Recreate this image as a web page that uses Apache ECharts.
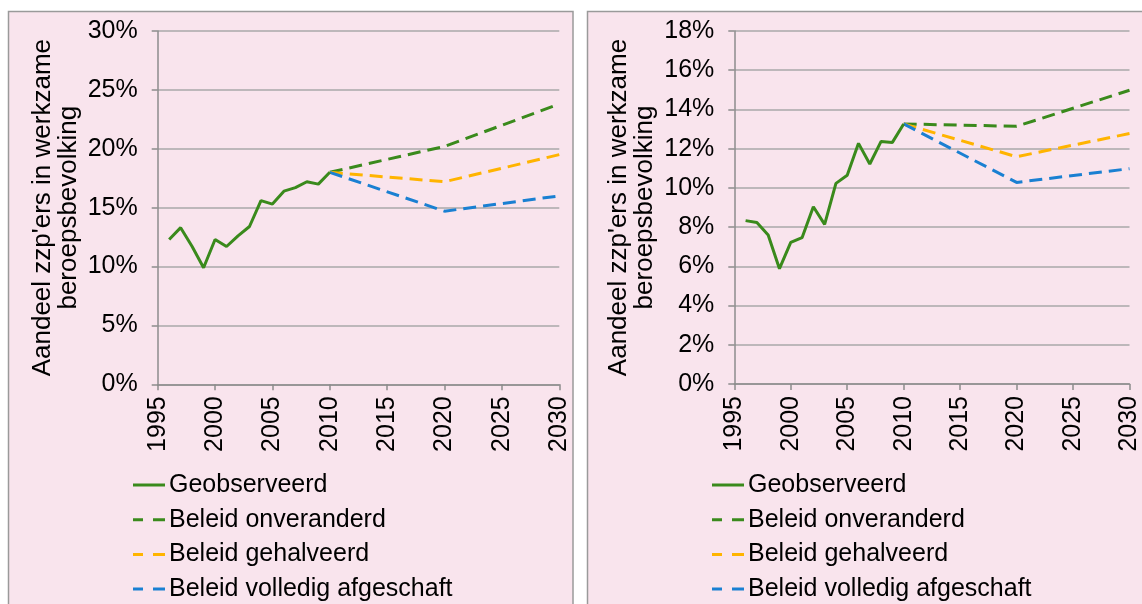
<!DOCTYPE html>
<html>
<head>
<meta charset="utf-8">
<script src="https://cdn.jsdelivr.net/npm/echarts@6/dist/echarts.min.js"></script>
<style>
html,body{margin:0;padding:0;background:#fff;}
#chart{width:1142px;height:604px;}
</style>
</head>
<body>
<div id="chart"></div>
<script>
// ---- Data ----
const obsYears = [1996,1997,1998,1999,2000,2001,2002,2003,2004,2005,2006,2007,2008,2009,2010];
const projYears = [2010,2020,2030];

// Left chart (0-30%)
const leftObserved = [12.3,13.3,11.7,9.9,12.3,11.7,12.6,13.4,15.6,15.3,16.4,16.7,17.2,17.0,18.0];
const leftOnveranderd = [18.0,20.2,23.8];
const leftGehalveerd = [18.0,17.2,19.5];
const leftAfgeschaft = [18.0,14.7,16.0];

// Right chart (0-18%)
const rightObserved = [8.33,8.23,7.60,5.88,7.22,7.46,9.04,8.14,10.23,10.64,12.27,11.22,12.37,12.32,13.26];
const rightOnveranderd = [13.26,13.14,14.98];
const rightGehalveerd = [13.26,11.59,12.77];
const rightAfgeschaft = [13.26,10.28,10.98];

const seriesNames = ['Geobserveerd','Beleid onveranderd','Beleid gehalveerd','Beleid volledig afgeschaft'];
const yAxisTitle = "Aandeel zzp'ers in werkzame\nberoepsbevolking";
const xTicks = {min:1995, max:2030, interval:5};
const leftY = {min:0, max:30, interval:5};
const rightY = {min:0, max:18, interval:2};

// ---- Styles ----
const GREEN = '#3a8a1c', ORANGE = '#ffb400', BLUE = '#1a80d2';
const FONT = 'Liberation Sans, Arial, sans-serif';
const FS = 25;
const dash = [13,7];
const SOLID_ICON = 'path://M0,0h32v3h-32z';
const DASH_ICON = 'path://M0,0h10v3h-10z M20,0h12v3h-12z';

function pairs(xs, ys){ return xs.map((x,i)=>[x, ys[i]]); }

function xAxisCfg(gi){
  return {
    type:'value', gridIndex:gi, min:xTicks.min, max:xTicks.max, interval:xTicks.interval,
    axisLine:{show:true, lineStyle:{color:'#8c8c8c', width:1.5}},
    axisTick:{show:true, length:6, lineStyle:{color:'#8c8c8c', width:1.5}},
    splitLine:{show:false},
    axisLabel:{rotate:90, margin:12, color:'#000', fontFamily:FONT, fontSize:FS,
      formatter:v=>String(v)}
  };
}
function yAxisCfg(gi, r){
  return {
    type:'value', gridIndex:gi, min:r.min, max:r.max, interval:r.interval,
    name:yAxisTitle, nameLocation:'middle', nameRotate:90, nameGap:76,
    nameTextStyle:{color:'#000', fontFamily:FONT, fontSize:26, lineHeight:26},
    axisLine:{show:true, lineStyle:{color:'#8c8c8c', width:1.5}},
    axisTick:{show:true, length:6, lineStyle:{color:'#8c8c8c', width:1.5}},
    splitLine:{show:true, lineStyle:{color:'#a8a8a8', width:1.5}},
    axisLabel:{margin:20, color:'#000', fontFamily:FONT, fontSize:FS, formatter:v=>v+'%'}
  };
}
function seriesFor(gi, obs, onv, geh, afg){
  const base = {type:'line', xAxisIndex:gi, yAxisIndex:gi, symbol:'none', silent:true, animation:false};
  return [
    Object.assign({}, base, {name:seriesNames[1], data:pairs(projYears,onv), z:2, lineStyle:{color:GREEN,width:3,type:dash}, itemStyle:{color:GREEN}}),
    Object.assign({}, base, {name:seriesNames[2], data:pairs(projYears,geh), z:3, lineStyle:{color:ORANGE,width:3,type:dash}, itemStyle:{color:ORANGE}}),
    Object.assign({}, base, {name:seriesNames[3], data:pairs(projYears,afg), z:4, lineStyle:{color:BLUE,width:3,type:dash}, itemStyle:{color:BLUE}}),
    Object.assign({}, base, {name:seriesNames[0], data:pairs(obsYears,obs), z:5, lineStyle:{color:GREEN,width:3}, itemStyle:{color:GREEN}})
  ];
}
function legendCfg(left){
  return {
    orient:'vertical', left:left, top:472.5, padding:0,
    data:seriesNames.map((n,i)=>({name:n, icon: i===0 ? SOLID_ICON : DASH_ICON})),
    itemWidth:32, itemHeight:3, itemGap:9.7, selectedMode:false,
    textStyle:{color:'#000', fontFamily:FONT, fontSize:FS, lineHeight:25, padding:[0,0,0,-1]}
  };
}

const chart = echarts.init(document.getElementById('chart'), null, {renderer:'canvas'});
chart.setOption({
  animation:false,
  backgroundColor:'#ffffff',
  graphic:[
    {type:'rect', z:-10, shape:{x:8.5, y:11.5, width:564.5, height:620}, style:{fill:'#f9e4ed', stroke:'#9a9a9a', lineWidth:1.5}},
    {type:'rect', z:-10, shape:{x:587.5, y:11.5, width:600, height:620}, style:{fill:'#f9e4ed', stroke:'#9a9a9a', lineWidth:1.5}}
  ],
  grid:[
    {left:157.7, top:31, width:401.6, height:353.3},
    {left:734.3, top:31, width:403.4, height:353}
  ],
  xAxis:[xAxisCfg(0), xAxisCfg(1)],
  yAxis:[yAxisCfg(0,leftY), yAxisCfg(1,rightY)],
  legend:[legendCfg(133), legendCfg(712)],
  series:[].concat(
    seriesFor(0,leftObserved,leftOnveranderd,leftGehalveerd,leftAfgeschaft),
    seriesFor(1,rightObserved,rightOnveranderd,rightGehalveerd,rightAfgeschaft)
  )
});
</script>
</body>
</html>
